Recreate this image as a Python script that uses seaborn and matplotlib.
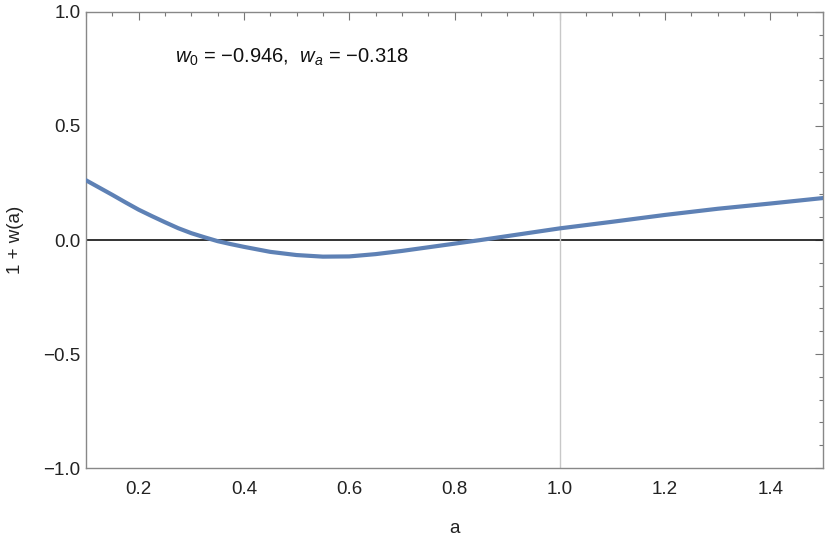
import matplotlib
matplotlib.use("Agg")
import matplotlib.pyplot as plt
import numpy as np
import pandas as pd
import seaborn as sns
from matplotlib.ticker import MultipleLocator

# values
a_vals = [0.10, 0.125, 0.15, 0.175, 0.20, 0.225, 0.25, 0.275, 0.30, 0.325,
          0.35, 0.375, 0.40, 0.45, 0.50, 0.55, 0.60, 0.65, 0.70, 0.75,
          0.80, 0.85, 0.90, 0.95, 1.00, 1.10, 1.20, 1.30, 1.40, 1.50]
w_vals = [0.262, 0.230, 0.198, 0.165, 0.133, 0.105, 0.078, 0.052, 0.030, 0.012,
          -0.005, -0.018, -0.030, -0.052, -0.066, -0.073, -0.072, -0.062, -0.048, -0.032,
          -0.016, 0.000, 0.017, 0.034, 0.051, 0.080, 0.110, 0.137, 0.160, 0.184]
x_ticks = [0.2, 0.4, 0.6, 0.8, 1.0, 1.2, 1.4]
y_ticks = [-1.0, -0.5, 0.0, 0.5, 1.0]
note = r"$w_0$ = −0.946,  $w_a$ = −0.318"

sns.set_style("white")
plt.rcParams['font.family'] = ['Liberation Sans', 'DejaVu Sans']
plt.rcParams['mathtext.fontset'] = 'custom'
plt.rcParams['mathtext.it'] = 'Liberation Sans:italic'
plt.rcParams['mathtext.rm'] = 'Liberation Sans'

df = pd.DataFrame({'a': a_vals, 'w': w_vals})

fig = plt.figure(figsize=(8.3, 5.38), dpi=100)
ax = fig.add_axes([0.1036, 0.1301, 0.888, 0.8476])

ax.axhline(0, color='#222222', lw=1.3, zorder=1)
ax.axvline(1.0, color='#c8c8c8', lw=1.0, zorder=1)
sns.lineplot(data=df, x='a', y='w', color='#5e81b5', lw=3.0, ax=ax, zorder=3)

ax.set_xlim(0.1, 1.5)
ax.set_ylim(-1, 1)
ax.set_xticks(x_ticks)
ax.set_yticks(y_ticks)
ax.set_xticklabels([f"{t:.1f}" for t in x_ticks])
ax.set_yticklabels([f"{t:.1f}".replace('-', '\u2212') for t in y_ticks])
ax.xaxis.set_minor_locator(MultipleLocator(0.05))
ax.yaxis.set_minor_locator(MultipleLocator(0.1))
ax.tick_params(which='both', direction='in', top=True, right=True,
               color='#777777', width=0.8, labelsize=13.5, labelcolor='#222222')
ax.tick_params(axis='x', pad=9)
ax.tick_params(axis='y', pad=4)
ax.tick_params(which='major', length=6)
ax.tick_params(which='minor', length=3)
for s in ax.spines.values():
    s.set_color('#888888')
    s.set_linewidth(1.0)

ax.set_xlabel('a', fontsize=13.5, color='#222222', labelpad=16)
ax.set_ylabel('1 + w(a)', fontsize=13.5, color='#222222', labelpad=14)
ax.text(0.269, 0.80, note, fontsize=14.5, color='#111111', va='center', ha='left')

fig.savefig('out.png', dpi=100)
